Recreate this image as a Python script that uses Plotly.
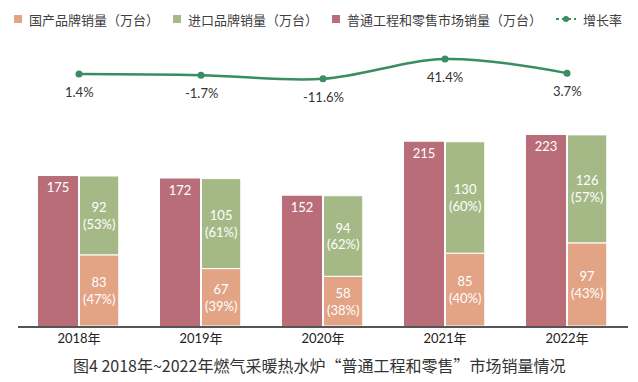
import plotly.graph_objects as go

years = ["2018年", "2019年", "2020年", "2021年", "2022年"]
domestic = [83, 67, 58, 85, 97]
domestic_pct = [47, 39, 38, 40, 43]
imported = [92, 105, 94, 130, 126]
imported_pct = [53, 61, 62, 60, 57]
total = [175, 172, 152, 215, 223]
growth = [1.4, -1.7, -11.6, 41.4, 3.7]

C_OR = "#E3A385"
C_GR = "#A5B986"
C_RD = "#B96D79"
C_LN = "#3A8C63"

W, H = 638, 382
L, R, T, B = 18, 10, 40, 56
pw, ph = W - L - R, H - T - B


def px(x):
    return (x - L) / pw


def py(y):
    return (H - B - y) / ph


FONT = "Lato, 'Noto Sans CJK SC', sans-serif"
CJK = "'Noto Sans CJK SC', sans-serif"

fig = go.Figure()

fig.add_trace(go.Bar(
    x=years, y=total, name="普通工程和零售市场销量（万台）",
    marker=dict(color=C_RD, line=dict(width=0)),
    offset=-0.336, width=0.328,
    text=[str(v) for v in total], textposition="inside", insidetextanchor="end",
    textfont=dict(color="white", size=13, family=FONT), cliponaxis=False,
))
fig.add_trace(go.Bar(
    x=years, y=domestic, name="国产品牌销量（万台）",
    marker=dict(color=C_OR, line=dict(width=1, color="white")),
    offset=0.004, width=0.322,
    text=[f"{v}<br>({p}%)" for v, p in zip(domestic, domestic_pct)],
    textposition="inside", insidetextanchor="middle",
    textfont=dict(color="white", size=13, family=FONT), cliponaxis=False,
))
fig.add_trace(go.Bar(
    x=years, y=imported, base=domestic, name="进口品牌销量（万台）",
    marker=dict(color=C_GR, line=dict(width=1, color="white")),
    offset=0.004, width=0.322,
    text=[f"{v}<br>({p}%)" for v, p in zip(imported, imported_pct)],
    textposition="inside", insidetextanchor="middle",
    textfont=dict(color="white", size=13, family=FONT), cliponaxis=False,
))
fig.add_trace(go.Scatter(
    x=years, y=growth, yaxis="y2", name="增长率", mode="lines+markers",
    line=dict(color=C_LN, width=2.5, shape="spline", smoothing=1),
    marker=dict(color=C_LN, size=7), cliponaxis=False,
))

annotations = []
for yr, g in zip(years, growth):
    annotations.append(dict(
        x=yr, y=g, xref="x", yref="y2", text=f"{g}%", showarrow=False,
        yshift=-18, font=dict(size=13, color="#333333", family=FONT),
    ))

# manual legend
shapes = []
leg_y = 19
items = [(18, C_OR, "国产品牌销量（万台）"), (177, C_GR, "进口品牌销量（万台）"),
         (336, C_RD, "普通工程和零售市场销量（万台）")]
for mx, col, txt in items:
    shapes.append(dict(type="rect", xref="paper", yref="paper",
                       x0=px(mx - 4), x1=px(mx + 4), y0=py(leg_y + 4), y1=py(leg_y - 4),
                       fillcolor=col, line=dict(width=0)))
    annotations.append(dict(x=px(mx + 9), y=py(leg_y), xref="paper", yref="paper",
                            text=txt, showarrow=False, xanchor="left", yanchor="middle",
                            font=dict(size=13, color="#404040", family=CJK)))
shapes.append(dict(type="line", xref="paper", yref="paper",
                   x0=px(556), x1=px(576), y0=py(leg_y), y1=py(leg_y),
                   line=dict(color=C_LN, width=2, dash="3px,3px")))
shapes.append(dict(type="circle", xref="paper", yref="paper",
                   x0=px(563), x1=px(569), y0=py(leg_y + 3), y1=py(leg_y - 3),
                   fillcolor=C_LN, line=dict(width=0)))
annotations.append(dict(x=px(581), y=py(leg_y), xref="paper", yref="paper",
                        text="增长率", showarrow=False, xanchor="left", yanchor="middle",
                        font=dict(size=13, color="#404040", family=CJK)))

# caption
annotations.append(dict(x=px(319), y=py(365), xref="paper", yref="paper",
                        text="图4 2018年~2022年燃气采暖热水炉“普通工程和零售”市场销量情况",
                        showarrow=False, xanchor="center", yanchor="middle",
                        font=dict(size=16, color="#333333", family=CJK)))

fig.update_layout(
    width=W, height=H, margin=dict(l=L, r=R, t=T, b=B),
    paper_bgcolor="white", plot_bgcolor="white",
    barmode="overlay", showlegend=False,
    uniformtext=dict(minsize=13, mode="show"),
    xaxis=dict(type="category", range=[-0.5, 4.5], showline=True, linecolor="#555555",
               linewidth=1.5, ticks="", showgrid=False, zeroline=False,
               tickfont=dict(size=13, color="#222222", family=FONT)),
    yaxis=dict(range=[0, ph / 0.857], visible=False, showgrid=False, zeroline=False),
    yaxis2=dict(range=[1.4 - (H - B - 74) / 0.375, 1.4 - (H - B - 74) / 0.375 + ph / 0.375],
                overlaying="y", visible=False, showgrid=False, zeroline=False),
    shapes=shapes, annotations=annotations,
)

fig.write_html("out.html", config={"displayModeBar": False},
               post_script="document.body.style.margin='0';document.body.style.overflow='hidden';")
